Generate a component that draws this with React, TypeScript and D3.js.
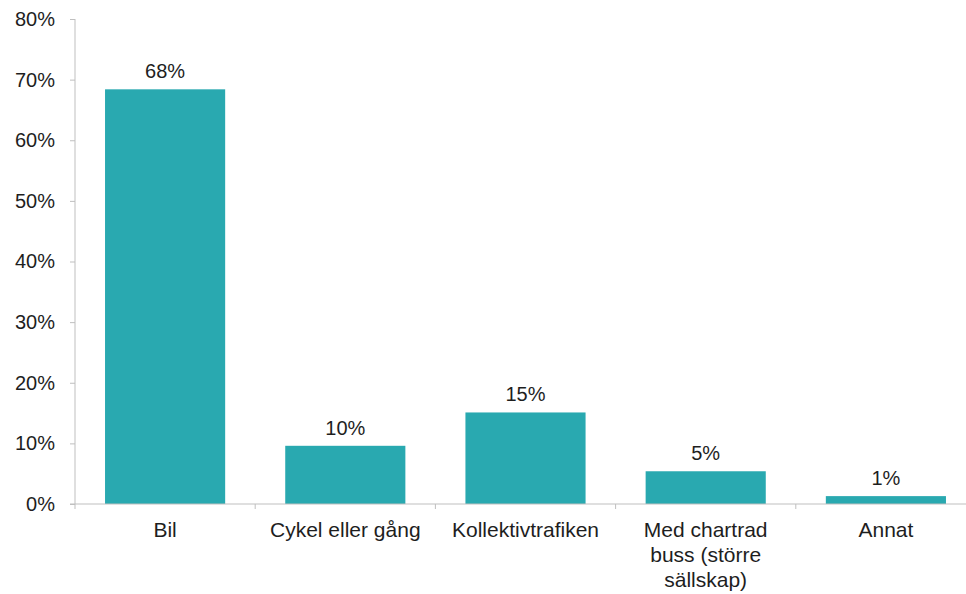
import { useEffect, useRef } from 'react'
import * as d3 from 'd3'

const W = 966
const H = 594
const MARGIN = { top: 19, right: -10, bottom: 90, left: 75 }

// Data
const categories = ['Bil', 'Cykel eller gång', 'Kollektivtrafiken', 'Med chartrad\nbuss (större\nsällskap)', 'Annat']
const shares = [0.684, 0.096, 0.151, 0.054, 0.013]
const yTicks = [0, 0.1, 0.2, 0.3, 0.4, 0.5, 0.6, 0.7, 0.8]

const BAR = '#29a9b0'
const AXIS = '#bfbfbf'
const TEXT = '#1e1e1e'
const FONT = '"Liberation Sans", Arial, sans-serif'

export default function App() {
  const svgRef = useRef<SVGSVGElement | null>(null)

  useEffect(() => {
    const svgEl = svgRef.current
    if (!svgEl) return
    const iW = W - MARGIN.left - MARGIN.right
    const iH = H - MARGIN.top - MARGIN.bottom

    const x = d3.scaleBand<string>()
      .domain(categories)
      .range([0, iW])
      .paddingInner(1 / 3)
      .paddingOuter(1 / 6)

    const y = d3.scaleLinear().domain([0, 0.8]).range([iH, 0])

    d3.select(svgEl).selectAll('*').remove()
    const svg = d3.select(svgEl).attr('width', W).attr('height', H)
    const g = svg.append('g').attr('transform', `translate(${MARGIN.left},${MARGIN.top})`)

    // Bars
    g.selectAll('rect.bar')
      .data(shares)
      .join('rect')
      .attr('class', 'bar')
      .attr('x', (_, i) => x(categories[i])!)
      .attr('width', x.bandwidth())
      .attr('y', d => y(d))
      .attr('height', d => iH - y(d))
      .attr('fill', BAR)

    // Value labels
    const pct = d3.format('.0%')
    g.selectAll('text.val')
      .data(shares)
      .join('text')
      .attr('class', 'val')
      .attr('x', (_, i) => x(categories[i])! + x.bandwidth() / 2)
      .attr('y', d => y(d) - 11)
      .attr('text-anchor', 'middle')
      .attr('font-size', 20)
      .attr('font-family', FONT)
      .attr('fill', TEXT)
      .text(d => pct(d))

    // Y axis
    const yAxis = d3.axisLeft(y)
      .tickValues(yTicks)
      .tickFormat(v => pct(v as number))
      .tickSize(5)
      .tickPadding(15)
    g.append('g')
      .call(yAxis)
      .call(ax => ax.select('.domain').attr('stroke', AXIS).attr('d', `M0,${iH}V0`))
      .call(ax => ax.selectAll('line').attr('stroke', AXIS))
      .call(ax => ax.selectAll('text')
        .attr('font-size', 20)
        .attr('font-family', FONT)
        .attr('fill', TEXT))

    // X axis: baseline plus boundary ticks between categories
    const step = x.step()
    const xa = g.append('g').attr('transform', `translate(0,${iH})`)
    xa.append('line')
      .attr('x1', -5).attr('x2', iW)
      .attr('stroke', AXIS)
    xa.selectAll('line.tick')
      .data(d3.range(categories.length + 1))
      .join('line')
      .attr('class', 'tick')
      .attr('x1', i => i * step).attr('x2', i => i * step)
      .attr('y1', 0).attr('y2', 5)
      .attr('stroke', AXIS)

    // Category labels (explicit line breaks)
    const labels = xa.selectAll('text.cat')
      .data(categories)
      .join('text')
      .attr('class', 'cat')
      .attr('text-anchor', 'middle')
      .attr('font-size', 21)
      .attr('font-family', FONT)
      .attr('fill', TEXT)
    labels.each(function (d) {
      const t = d3.select(this)
      const cx = x(d)! + x.bandwidth() / 2
      d.split('\n').forEach((line, k) => {
        t.append('tspan').attr('x', cx).attr('y', 33 + k * 25).text(line)
      })
    })
  }, [])

  return (
    <svg
      ref={svgRef}
      style={{ position: 'absolute', left: 0, top: 0, display: 'block', background: '#fff' }}
      width={W}
      height={H}
    />
  )
}
